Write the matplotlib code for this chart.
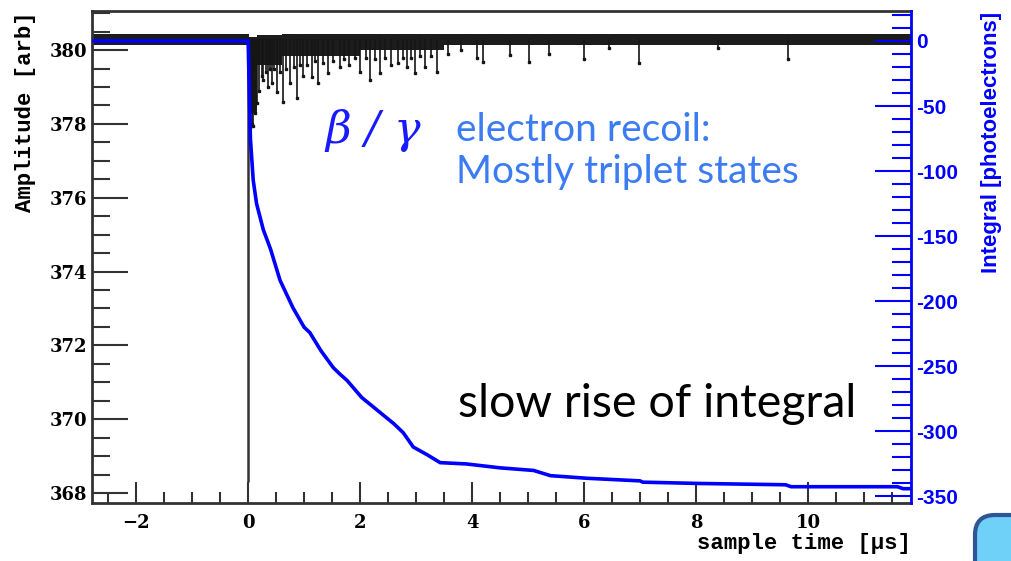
import matplotlib.pyplot as plt
from matplotlib.patches import FancyBboxPatch
from matplotlib.ticker import FuncFormatter

# integral of the pulse (right axis, photoelectrons)
int_t = [-2.8, 0.0, 0.01, 0.04, 0.09, 0.15, 0.27, 0.4, 0.57, 0.8, 1.0, 1.1, 1.3,
         1.52, 1.64, 1.77, 2.03, 2.23, 2.4, 2.6, 2.77, 2.95, 3.2, 3.43, 3.9,
         4.5, 5.1, 5.4, 6.05, 7.0, 7.05, 8.07, 9.6, 9.7, 11.6, 11.7, 11.84]
int_val = [0, 0, -20, -75, -107, -125, -145, -160, -184, -205, -220, -224, -238,
           -251, -256, -261, -274, -281, -287, -294, -301, -312, -318, -324, -325,
           -328, -330, -334, -336, -338, -339, -340, -341, -342.5, -342.5, -344, -344]

# waveform: noise band around the baseline (left axis, arb)
band_t = [-2.8, 0.0, 0.02, 0.15, 0.6, 2.0, 3.5, 11.84]
band_lo = [380.13, 380.13, 378.3, 379.6, 379.85, 380.0, 380.15, 380.15]
band_hi = [380.45, 380.45, 380.35, 380.42, 380.44, 380.45, 380.45, 380.45]

# main pulse
pulse_t = 0.0
pulse_min = 368.3
baseline = 380.3

# single photoelectron spikes after the pulse
spike_t = [0.03, 0.06, 0.09, 0.12, 0.16, 0.2, 0.24, 0.27, 0.31, 0.35, 0.39, 0.43,
           0.47, 0.52, 0.57, 0.62, 0.68, 0.75, 0.81, 0.87, 0.93, 0.98, 1.05, 1.14,
           1.2, 1.25, 1.33, 1.43, 1.52, 1.64, 1.72, 1.8, 1.9, 2.0, 2.1, 2.18, 2.27,
           2.36, 2.45, 2.55, 2.68, 2.76, 2.84, 2.91, 2.98, 3.07, 3.16, 3.27, 3.37,
           3.57, 3.8, 4.09, 4.2, 4.68, 5.02, 5.38, 6.0, 6.45, 6.98, 8.4, 9.64]
spike_min = [377.9, 378.0, 377.95, 378.3, 378.56, 378.9, 379.3, 379.2, 379.4, 379.0,
             379.5, 379.1, 379.5, 378.86, 379.4, 378.6, 379.5, 379.1, 379.55, 378.7,
             379.6, 379.3, 379.6, 379.27, 379.7, 379.1, 379.65, 379.37, 379.7, 379.54,
             379.75, 379.6, 379.8, 379.4, 379.8, 379.18, 379.75, 379.37, 379.8, 379.6,
             379.65, 379.8, 379.54, 379.8, 379.37, 379.85, 379.54, 379.85, 379.4,
             379.9, 380.0, 379.8, 379.67, 379.86, 379.67, 379.9, 379.76, 380.05,
             379.65, 380.05, 379.76]

blue = '#0000ff'
tickfont = {'family': 'DejaVu Serif', 'weight': 'bold', 'size': 13}

fig = plt.figure(figsize=(10.11, 5.61), dpi=100)
ax = fig.add_axes([0.091, 0.1034, 0.81, 0.877])

ax.fill_between(band_t, band_lo, band_hi, step='post', color='#1c1c1c', lw=0)
ax.vlines([pulse_t], pulse_min, baseline, color='#333333', lw=1.8)
ax.vlines(spike_t, spike_min, baseline, color='#151515', lw=1.2)
ax.plot(spike_t, spike_min, ls='none', marker='s', ms=1.8, color='#151515')

ax.set_xlim(-2.79, 11.84)
ax.set_ylim(367.73, 381.06)
ax.set_xticks(range(-2, 12, 2))
ax.set_xticks([x * 0.5 for x in range(-5, 24)], minor=True)
ax.set_yticks(range(368, 381, 2))
ax.set_yticks([368 + 0.5 * i for i in range(0, 27)], minor=True)
ax.tick_params(axis='y', which='major', direction='in', length=26, width=1.5, color='#333333')
ax.tick_params(axis='y', which='minor', direction='in', length=13, width=1.5, color='#333333')
ax.tick_params(axis='x', which='major', direction='in', length=15, width=1.5, color='#333333', pad=8)
ax.tick_params(axis='x', which='minor', direction='in', length=8, width=1.5, color='#333333')
for lab in ax.get_xticklabels() + ax.get_yticklabels():
    lab.set_fontproperties(tickfont)
for s in ['left', 'bottom', 'top']:
    ax.spines[s].set_linewidth(2)
    ax.spines[s].set_color('#333333')
ax.spines['right'].set_visible(False)

ax.set_ylabel('Amplitude [arb]', loc='top', family='Liberation Mono', weight='bold', fontsize=16)
ax.yaxis.set_label_coords(-0.068, 1.0)
ax.set_xlabel('sample time [\u00b5s]', loc='right', family='Liberation Mono', weight='bold', fontsize=16)
ax.xaxis.set_label_coords(1.0, -0.083)
ax.xaxis.label.set_va('center')

ax2 = ax.twinx()
ax2.plot(int_t, int_val, color=blue, lw=2.6)
ax2.set_ylim(-355, 23)
ax2.set_yticks(range(-350, 1, 50))
ax2.set_yticks(range(-350, 21, 10), minor=True)
ax2.yaxis.set_major_formatter(FuncFormatter(lambda v, p: '%d' % v))
ax2.tick_params(axis='y', which='major', direction='in', length=26, width=1.5, color=blue, labelcolor=blue)
ax2.tick_params(axis='y', which='minor', direction='in', length=14, width=1.5, color=blue)
for lab in ax2.get_yticklabels():
    lab.set_fontproperties({'family': 'Liberation Sans', 'weight': 'bold', 'size': 15})
for s in ['left', 'bottom', 'top']:
    ax2.spines[s].set_visible(False)
ax2.spines['right'].set_color(blue)
ax2.spines['right'].set_linewidth(2)
ax2.set_ylabel('Integral [photoelectrons]', loc='top', color=blue, family='Liberation Sans',
               weight='bold', fontsize=16)
ax2.yaxis.set_label_coords(1.086, 0.998)

# annotations
fig.text(325 / 1011, 1 - 130 / 561, '\u03b2 / \u03b3', color='#1a1aff', fontsize=32,
         family='DejaVu Serif', style='italic', va='center', ha='left')
fig.text(456 / 1011, 1 - 151 / 561, 'electron recoil:\nMostly triplet states',
         color='#3c7cf2', fontsize=28, family='Lato', va='center', ha='left', linespacing=1.22)
fig.text(458 / 1011, 1 - 404 / 561, 'slow rise of integral', color='black', fontsize=33.5,
         family='Lato', va='center', ha='left')

# corner of a slide shape
box = FancyBboxPatch((9.75, -0.4), 1.0, 0.86, boxstyle='round,pad=0,rounding_size=0.2',
                     transform=fig.dpi_scale_trans, facecolor='#6fd0f8', edgecolor='#2f5597',
                     lw=3, clip_on=False)
fig.add_artist(box)

plt.savefig('out.png', dpi=100)
